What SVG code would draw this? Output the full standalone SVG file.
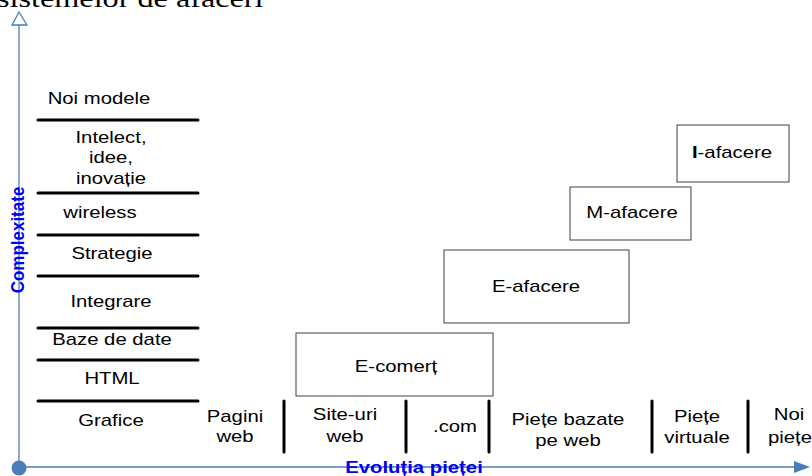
<svg xmlns="http://www.w3.org/2000/svg" width="812" height="476" viewBox="0 0 812 476">
<style>
.t{font-family:"Liberation Sans",Arial,sans-serif;font-size:16px;fill:#000;text-anchor:middle}
.ax{font-family:"Liberation Sans",Arial,sans-serif;font-size:16px;font-weight:bold;fill:#0000ee;text-anchor:middle}
.ttl{font-family:"Liberation Serif","Times New Roman",serif;font-size:26px;fill:#000}
.lvl{stroke:#000;stroke-width:3;stroke-linecap:round;fill:none}
.box{fill:#fff;stroke:#404040;stroke-width:1}
.axis{stroke:#4a7ebb;stroke-width:1.3;fill:none}
</style>
<rect width="812" height="476" fill="#fff"/>
<text class="ttl" transform="translate(-3,7) scale(1.24,1)">sistemelor de afaceri</text>

<g id="connectors">
  <line class="axis" x1="19" y1="25" x2="19" y2="468"/>
  <polygon points="19,12 12,25 27,25" fill="#fff" stroke="#4a7ebb" stroke-width="1.3"/>
  <line class="axis" x1="19" y1="467" x2="796" y2="467"/>
  <polygon points="794,461 810,467 794,473" fill="#4a7ebb"/>
  <circle cx="19" cy="468" r="7.5" fill="#4a7ebb"/>
</g>

<g id="axis-labels">
  <text class="ax" style="font-size:17px" transform="translate(24,240) rotate(-90) scale(1,1.1)">Complexitate</text>
  <text class="ax" transform="translate(414,473) scale(1.27,1)">Evoluția pieței</text>
</g>

<g id="levels">
  <line class="lvl" x1="38" y1="120" x2="198" y2="120"/>
  <line class="lvl" x1="38" y1="193" x2="198" y2="193"/>
  <line class="lvl" x1="38" y1="235" x2="198" y2="235"/>
  <line class="lvl" x1="38" y1="276" x2="198" y2="276"/>
  <line class="lvl" x1="38" y1="328" x2="198" y2="328"/>
  <line class="lvl" x1="38" y1="360" x2="198" y2="360"/>
  <line class="lvl" x1="38" y1="401" x2="198" y2="401"/>
</g>
<g id="lvl-noi-modele"><text class="t" transform="translate(99,104) scale(1.27,1)">Noi modele</text></g>
<g id="lvl-intelect">
  <text class="t" transform="translate(111,143) scale(1.27,1)">Intelect,</text>
  <text class="t" transform="translate(111,163) scale(1.27,1)">idee,</text>
  <text class="t" transform="translate(111,184) scale(1.27,1)">inovație</text>
</g>
<g id="lvl-wireless"><text class="t" transform="translate(100,218) scale(1.27,1)">wireless</text></g>
<g id="lvl-strategie"><text class="t" transform="translate(112,259) scale(1.27,1)">Strategie</text></g>
<g id="lvl-integrare"><text class="t" transform="translate(111,307) scale(1.27,1)">Integrare</text></g>
<g id="lvl-baze"><text class="t" transform="translate(112,345) scale(1.27,1)">Baze de date</text></g>
<g id="lvl-html"><text class="t" transform="translate(112,384) scale(1.27,1)">HTML</text></g>
<g id="lvl-grafice"><text class="t" transform="translate(111,426) scale(1.27,1)">Grafice</text></g>

<g id="market-separators">
  <line class="lvl" x1="284" y1="401" x2="284" y2="452"/>
  <line class="lvl" x1="406" y1="401" x2="406" y2="452"/>
  <line class="lvl" x1="489" y1="401" x2="489" y2="452"/>
  <line class="lvl" x1="652" y1="401" x2="652" y2="452"/>
  <line class="lvl" x1="748" y1="401" x2="748" y2="452"/>
</g>
<g id="mkt-pagini">
  <text class="t" transform="translate(235,422) scale(1.27,1)">Pagini</text>
  <text class="t" transform="translate(235,442) scale(1.27,1)">web</text>
</g>
<g id="mkt-site">
  <text class="t" transform="translate(345,420) scale(1.27,1)">Site-uri</text>
  <text class="t" transform="translate(345,442) scale(1.27,1)">web</text>
</g>
<g id="mkt-com"><text class="t" transform="translate(455,432) scale(1.27,1)">.com</text></g>
<g id="mkt-piete-web">
  <text class="t" transform="translate(568,425) scale(1.27,1)">Piețe bazate</text>
  <text class="t" transform="translate(568,446) scale(1.27,1)">pe web</text>
</g>
<g id="mkt-virtuale">
  <text class="t" transform="translate(697,422) scale(1.27,1)">Piețe</text>
  <text class="t" transform="translate(697,443) scale(1.27,1)">virtuale</text>
</g>
<g id="mkt-noi">
  <text class="t" transform="translate(789,420) scale(1.27,1)">Noi</text>
  <text class="t" transform="translate(790,443) scale(1.27,1)">piețe</text>
</g>

<g id="e-comert">
  <rect class="box" x="296" y="333" width="197" height="63"/>
  <text class="t" transform="translate(396,372) scale(1.27,1)">E-comerț</text>
</g>
<g id="e-afacere">
  <rect class="box" x="444" y="250" width="185" height="73"/>
  <text class="t" transform="translate(536,292) scale(1.27,1)">E-afacere</text>
</g>
<g id="m-afacere">
  <rect class="box" x="570" y="187" width="121" height="53"/>
  <text class="t" transform="translate(632,218) scale(1.27,1)">M-afacere</text>
</g>
<g id="i-afacere">
  <rect class="box" x="677" y="125" width="112" height="57"/>
  <text class="t" transform="translate(732,158) scale(1.27,1)"><tspan font-weight="bold">I</tspan>-afacere</text>
</g>
</svg>
